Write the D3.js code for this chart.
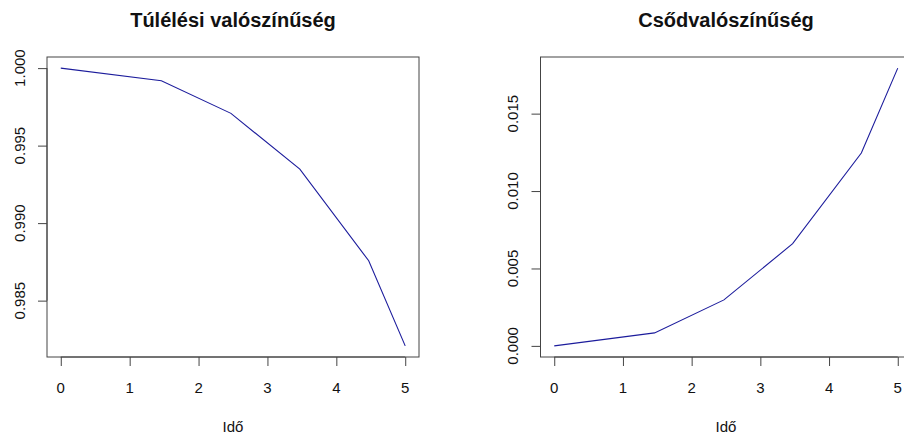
<!DOCTYPE html>
<html>
<head>
<meta charset="utf-8">
<script src="https://cdn.jsdelivr.net/npm/d3@7"></script>
<style>
  body { margin: 0; background: #fff; }
  svg text { font-family: "Liberation Sans", Arial, sans-serif; fill: #111; }
</style>
</head>
<body>
<svg id="chart" width="904" height="436"></svg>
<script>
// data
const times = [0, 1.46, 2.47, 3.47, 4.47, 5];
const survival = [1.0, 0.99918, 0.99708, 0.99348, 0.98757, 0.98208];
const defaultProb = [0, 0.00084, 0.00297, 0.00660, 0.01246, 0.01794];
const xTicks = [0, 1, 2, 3, 4, 5];
const survTicks = [0.985, 0.990, 0.995, 1.000];
const defTicks = [0.000, 0.005, 0.010, 0.015];
const titles = ["Túlélési valószínűség", "Csődvalószínűség"];
const xLabel = "Idő";

const svg = d3.select("#chart");

// R-style 4% padding of the data range
function padded(ext) {
  const d = (ext[1] - ext[0]) * 0.04;
  return [ext[0] - d, ext[1] + d];
}

function drawPanel(box, values, yTicks, title) {
  const x = d3.scaleLinear().domain(padded(d3.extent(times))).range([box.left, box.right]);
  const y = d3.scaleLinear().domain(padded(d3.extent(values))).range([box.bottom, box.top]);

  const g = svg.append("g");

  // the line
  g.append("path")
    .datum(times.map((t, i) => [t, values[i]]))
    .attr("fill", "none")
    .attr("stroke", "#1c1c9c")
    .attr("stroke-width", 1.1)
    .attr("d", d3.line().x(d => x(d[0])).y(d => y(d[1])));

  // box
  g.append("rect")
    .attr("x", box.left).attr("y", box.top)
    .attr("width", box.right - box.left).attr("height", box.bottom - box.top)
    .attr("fill", "none").attr("stroke", "#444").attr("stroke-width", 1);

  // x axis (ticks only, labels drawn below)
  const xa = g.append("g").attr("transform", "translate(0," + box.bottom + ")")
    .call(d3.axisBottom(x).tickValues(xTicks).tickSize(9).tickFormat(""));
  xa.select(".domain").attr("d", "M" + x(xTicks[0]) + ",0H" + x(xTicks[xTicks.length - 1])).attr("stroke", "#444");
  xa.selectAll(".tick line").attr("stroke", "#444");

  g.selectAll("text.xlab")
    .data(xTicks)
    .join("text")
    .classed("xlab", true)
    .attr("x", d => x(d))
    .attr("y", box.bottom + 35.5)
    .attr("text-anchor", "middle")
    .style("font-size", "15px")
    .text(d3.format("d"));

  // y axis (ticks only, rotated labels drawn below)
  const ya = g.append("g").attr("transform", "translate(" + box.left + ",0)")
    .call(d3.axisLeft(y).tickValues(yTicks).tickSize(9).tickFormat(""));
  ya.select(".domain").attr("d", "M0," + y(yTicks[0]) + "V" + y(yTicks[yTicks.length - 1])).attr("stroke", "#444");
  ya.selectAll(".tick line").attr("stroke", "#444");

  g.selectAll("text.ylab")
    .data(yTicks)
    .join("text")
    .classed("ylab", true)
    .attr("transform", d => "translate(" + (box.left - 22.5) + "," + y(d) + ") rotate(-90)")
    .attr("text-anchor", "middle")
    .style("font-size", "15px")
    .text(d3.format(".3f"));

  // title
  g.append("text")
    .attr("x", (box.left + box.right) / 2).attr("y", 27)
    .attr("text-anchor", "middle")
    .style("font-size", "20px").style("font-weight", "bold")
    .text(title);

  // x label
  g.append("text")
    .attr("x", (box.left + box.right) / 2).attr("y", 432)
    .attr("text-anchor", "middle")
    .style("font-size", "15px")
    .text(xLabel);
}

drawPanel({ left: 47, right: 419, top: 57, bottom: 357 }, survival, survTicks, titles[0]);
drawPanel({ left: 540.5, right: 911.5, top: 57, bottom: 357 }, defaultProb, defTicks, titles[1]);
</script>
</body>
</html>
